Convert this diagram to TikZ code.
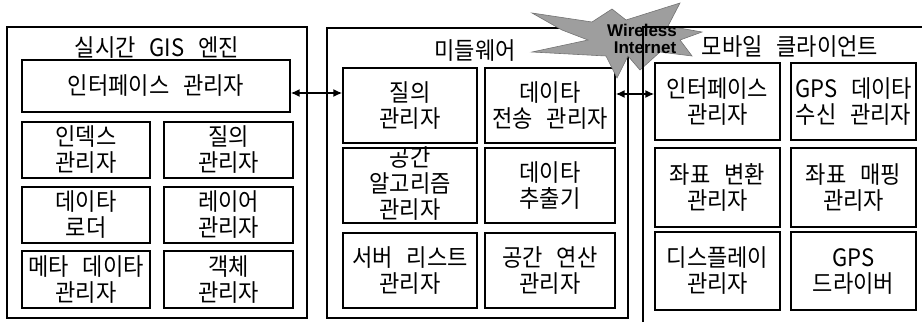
\documentclass[tikz,border=0pt]{standalone}
\usepackage{fontspec}
\newfontfamily\kr[WordSpace=2.8,FakeStretch=0.92]{Noto Sans CJK KR}
\newfontfamily\lsans{Liberation Sans}
\usetikzlibrary{arrows.meta}
\begin{document}
\begin{tikzpicture}[x=1pt,y=-1pt,
  outer/.style={draw, line width=1.6pt, inner sep=0pt},
  ibox/.style={draw, line width=1.2pt, align=center, inner sep=0pt,
    font=\kr\fontsize{24}{26}\selectfont},
  sz/.style 2 args={minimum width=#1pt, minimum height=#2pt},
  ttl/.style={font=\kr\fontsize{24}{26}\selectfont, inner sep=0pt},
  dbl/.style={{Latex[length=9pt,width=8pt]}-{Latex[length=9pt,width=8pt]}, line width=2.2pt},
  burst/.style={fill=black!38, draw=black!55, line width=0.6pt},
  wl/.style={font=\lsans\bfseries\fontsize{17}{17}\selectfont, inner sep=0pt}]
\useasboundingbox (0,0) rectangle (922,322);

% ---------- left: real-time GIS engine ----------
\node[outer, sz={300}{291}] (L) at (157,172.5) {};
\node[ttl] (Lt) at (157,48) {실시간 GIS 엔진};
\node[ibox, sz={268}{52}] (lif) at (156,86) {인터페이스 관리자};
\node[ibox, sz={128}{56}] (lidx) at (86,150) {인덱스\\관리자};
\node[ibox, sz={129}{56}] (lq) at (228.5,150) {질의\\관리자};
\node[ibox, sz={128}{56}] (ldl) at (86,215) {데이타\\로더};
\node[ibox, sz={129}{56}] (llay) at (228.5,215) {레이어\\관리자};
\node[ibox, sz={128}{57}] (lmeta) at (86,279.5) {메타 데이타\\관리자};
\node[ibox, sz={129}{57}] (lobj) at (228.5,279.5) {객체\\관리자};

% ---------- middle: middleware ----------
\node[outer, sz={301}{290}] (M) at (477.5,173) {};
\node[ttl] (Mt) at (475,51) {미들웨어};
\node[ibox, sz={134}{75}] (mq) at (410,105.5) {질의\\관리자};
\node[ibox, sz={130}{75}] (mt) at (550,105.5) {데이타\\전송 관리자};
\node[ibox, sz={134}{75}] (malg) at (410,185.5) {};
\node[ttl, align=center] (malgt) at (410,184) {공간\\알고리즘\\관리자};
\node[ibox, sz={130}{75}] (mext) at (550,185.5) {데이타\\추출기};
\node[ibox, sz={134}{75}] (msrv) at (410,270.5) {서버 리스트\\관리자};
\node[ibox, sz={130}{75}] (mop) at (550,270.5) {공간 연산\\관리자};

% ---------- right: mobile client ----------
\coordinate (Rbl) at (643,322);
\coordinate (Rtl) at (643,27);
\coordinate (Rtr) at (922,27);
\node[ttl] (Rt) at (790,47) {모바일 클라이언트};
\node[ibox, sz={125}{77}] (rif) at (717.5,101.5) {인터페이스\\관리자};
\node[ibox, sz={125}{77}] (rgps) at (853.5,101.5) {GPS 데이타\\수신 관리자};
\node[ibox, sz={125}{79}] (rconv) at (717.5,187.5) {좌표 변환\\관리자};
\node[ibox, sz={125}{79}] (rmap) at (853.5,187.5) {좌표 매핑\\관리자};
\node[ibox, sz={125}{78}] (rdisp) at (717.5,271) {디스플레이\\관리자};
\node[ibox, sz={125}{78}] (rdrv) at (853.5,271) {GPS\\드라이버};

% ---------- wireless burst ----------
\draw[burst] (532,13) -- (592,22) -- (612,9) -- (626,20) -- (680,3) -- (668,26)
  -- (702,32) -- (680,40) -- (692,56) -- (660,52) -- (640,70) -- (628,56)
  -- (617,78) -- (606,56) -- (532,52) -- (588,40) -- (562,30) -- cycle;
\node[wl] (w1) at (642,30) {Wireless};
\node[wl] (w2) at (645,48) {Internet};

\draw[line width=1.6pt] (Rbl) -- (Rtl) -- (Rtr);

% ---------- connectors ----------
\draw[dbl] (lif.east |- 0,93) -- (mq.west |- 0,93);
\draw[dbl] (mt.east |- 0,94) -- (rif.west |- 0,94);
\end{tikzpicture}
\end{document}
